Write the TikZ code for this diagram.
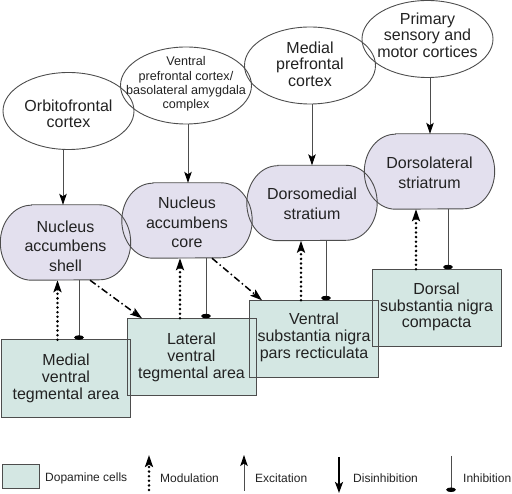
\documentclass[tikz,border=0pt]{standalone}
\usepackage{fontspec}
\setmainfont{Liberation Sans}
\usetikzlibrary{arrows.meta,calc,shapes.geometric}
\definecolor{dafill}{HTML}{D4E7E3}
\definecolor{stfill}{HTML}{E3E0EE}
\definecolor{edgec}{HTML}{4D4D4D}
\definecolor{ink}{HTML}{222222}
\begin{document}
\begin{tikzpicture}[x=1pt,y=-1pt,
  ellip/.style={ellipse, draw=edgec, line width=0.9pt, minimum width=131pt, minimum height=77pt, inner sep=0pt},
  etext/.style={align=center, font=\fontsize{16}{16.3}\selectfont, text=ink, inner sep=0pt},
  stnode/.style={rectangle, minimum width=130pt, minimum height=75pt, inner sep=0pt, align=center, font=\fontsize{16}{19.5}\selectfont, text=ink},
  danode/.style={rectangle, fill=dafill, minimum width=128.5pt, minimum height=77pt, inner sep=0pt, align=center, font=\fontsize{16}{16.7}\selectfont, text=ink},
  daline/.style={draw=edgec, line width=0.9pt},
  excit/.style={draw=edgec, line width=0.9pt, -{Stealth[length=11pt,width=7.5pt,inset=2.5pt,color=black]}},
  modul/.style={draw=black, line width=2.8pt, line cap=round, dash pattern=on 0pt off 4.6pt, -{Stealth[length=12pt,width=8pt,inset=2.5pt]}},
  dashdotarr/.style={draw=black, line width=1.5pt, dash pattern=on 7pt off 3pt on 1.5pt off 3pt, -{Stealth[length=12pt,width=8pt,inset=2.5pt]}},
  inhib/.style={draw=edgec, line width=0.9pt, -{Ellipse[length=4.5pt,width=9.5pt,color=black]}},
  disinh/.style={draw=black, line width=2pt, -{Stealth[length=11pt,width=8pt,inset=2.5pt]}},
  legtext/.style={anchor=west, font=\fontsize{12}{14}\selectfont, text=ink, inner sep=0pt}
]
\useasboundingbox (0,0) rectangle (512,494);

% cortical ellipses
\node[ellip] (orb) at (68.5,111) {};
\node[ellip] (vpfc) at (186,85.5) {};
\node[ellip] (mpfc) at (310,65.5) {};
\node[ellip] (prim) at (427.5,39) {};
\node[etext] (orbt) at (68.5,114) {Orbitofrontal\\cortex};
\node[etext, font=\fontsize{12.6}{14.4}\selectfont] (vpfct) at (186,84) {Ventral\\prefrontal cortex/\\basolateral amygdala\\complex};
\node[etext] (mpfct) at (310,64) {Medial\\prefrontal\\cortex};
\node[etext] (primt) at (427.5,35) {Primary\\sensory and\\motor cortices};

% striatal nodes
\node[stnode] (shell) at (65.5,242.5) {};
\node[stnode] (core) at (187,220.5) {};
\node[stnode] (dms) at (312,203) {};
\node[stnode] (dls) at (429.5,171.5) {};
\foreach \n in {shell,core,dms,dls}
  \fill[stfill] ($(\n.north west)+(31,0)$) -- ($(\n.north east)+(-31,0)$)
     arc[start angle=-90,end angle=90,x radius=31,y radius=37.5]
     -- ($(\n.south west)+(31,0)$)
     arc[start angle=90,end angle=270,x radius=31,y radius=37.5] -- cycle;
\foreach \n in {shell,core,dms,dls}
  \draw[daline] ($(\n.north west)+(31,0)$) -- ($(\n.north east)+(-31,0)$)
     arc[start angle=-90,end angle=90,x radius=31,y radius=37.5]
     -- ($(\n.south west)+(31,0)$)
     arc[start angle=90,end angle=270,x radius=31,y radius=37.5] -- cycle;
\node[stnode] (shellt) at (65.5,246) {Nucleus\\accumbens\\shell};
\node[stnode] (coret) at (187,222.5) {Nucleus\\accumbens\\core};
\node[stnode] (dmst) at (312,204) {Dorsomedial\\stratium};
\node[stnode] (dlst) at (429.5,173) {Dorsolateral\\striatrum};

% dopamine boxes
\node[danode] (mva) at (66,378.5) {};
\node[danode] (lva) at (191.5,357) {};
\node[danode] (vsn) at (314,339) {};
\node[danode] (dsn) at (436.5,308) {};
\foreach \n in {mva,lva,vsn,dsn}
  \draw[daline] (\n.south west) rectangle (\n.north east);
\node[danode, fill=none] (mvat) at (66,378.5) {Medial\\ventral\\tegmental area};
\node[danode, fill=none] (lvat) at (191.5,357.5) {Lateral\\ventral\\tegmental area};
\node[danode, fill=none] (vsnt) at (314,337.5) {Ventral\\substantia nigra\\pars recticulata};
\node[danode, fill=none] (dsnt) at (436.5,307) {Dorsal\\substantia nigra\\compacta};

% cortex -> striatum
\draw[excit] (orb.south -| 63,0) -- (shell.north -| 63,0);
\draw[excit] (vpfc.south -| 188,0) -- (core.north -| 188,0);
\draw[excit] (mpfc.south -| 312,0) -- (dms.north -| 312,0);
\draw[excit] (prim.south -| 430,0) -- (dls.north -| 430,0);

% modulation (dopamine -> striatum)
\draw[modul] (mva.north -| 57.5,0) -- (shell.south -| 57.5,0);
\draw[modul] (lva.north -| 180,0) -- (core.south -| 180,0);
\draw[modul] (vsn.north -| 301,0) -- (dms.south -| 301,0);
\draw[modul] (dsn.north -| 416,0) -- (dls.south -| 416,0);

% inhibition (striatum -> dopamine)
\draw[inhib] (shell.south -| 79,0) -- (mva.north -| 79,0);
\draw[inhib] (core.south -| 206,0) -- (lva.north -| 206,0);
\draw[inhib] (dms.south -| 326,0) -- (vsn.north -| 326,0);
\draw[inhib] (dls.south -| 448,0) -- (dsn.north -| 448,0);

% dash-dot spiral
\draw[dashdotarr] (shell.south -| 90,0) -- (lva.north -| 142,0);
\draw[dashdotarr] (core.south -| 212,0) -- (vsn.north -| 262,0);

% legend
\node[rectangle, fill=dafill, draw=edgec, line width=0.9pt, minimum width=37pt, minimum height=24pt, inner sep=0pt] (legbox) at (20.5,476) {};
\node[legtext] (legda) at (45,478) {Dopamine cells};
\coordinate (lma) at (149,490);
\coordinate (lmb) at (149,455);
\draw[modul] (lma) -- (lmb);
\node[legtext] (legmod) at (160,478) {Modulation};
\coordinate (lea) at (244,491);
\coordinate (leb) at (244,455);
\draw[excit] (lea) -- (leb);
\node[legtext] (legexc) at (255,478) {Excitation};
\coordinate (lda) at (339,457);
\coordinate (ldb) at (339,493);
\draw[disinh] (lda) -- (ldb);
\node[legtext] (legdis) at (353,478) {Disinhibition};
\coordinate (lia) at (451,456);
\coordinate (lib) at (451,492);
\draw[inhib] (lia) -- (lib);
\node[legtext] (leginh) at (463,478) {Inhibition};
\end{tikzpicture}
\end{document}
